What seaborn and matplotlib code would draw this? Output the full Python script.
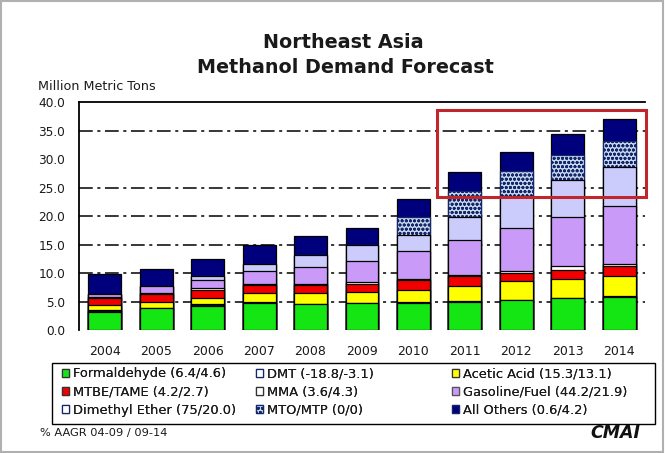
import matplotlib
matplotlib.use("Agg")
import matplotlib.pyplot as plt
import seaborn as sns
import numpy as np
from matplotlib.patches import Patch, Rectangle

# ---------------- data ----------------
years = ["2004", "2005", "2006", "2007", "2008", "2009", "2010", "2011", "2012", "2013", "2014"]
formaldehyde = [3.2, 3.8, 4.3, 4.8, 4.55, 4.7, 4.8, 5.0, 5.25, 5.55, 5.85]
dmt = [0.35, 0.1, 0.35, 0.05, 0.05, 0.05, 0.05, 0.05, 0.05, 0.05, 0.05]
acetic_acid = [0.9, 1.05, 1.05, 1.6, 1.9, 2.0, 2.2, 2.7, 3.3, 3.45, 3.65]
mtbe_tame = [1.15, 1.4, 1.4, 1.4, 1.35, 1.35, 1.75, 1.7, 1.5, 1.5, 1.7]
mma = [0.25, 0.2, 0.2, 0.2, 0.2, 0.4, 0.25, 0.3, 0.35, 0.7, 0.3]
gasoline_fuel = [0.4, 1.15, 1.55, 2.35, 2.95, 3.7, 4.8, 6.15, 7.45, 8.7, 10.3]
dimethyl_ether = [0.15, 0.1, 0.6, 1.2, 2.15, 2.7, 2.9, 4.05, 5.6, 6.4, 6.85]
mto_mtp = [0, 0, 0, 0, 0, 0, 3.2, 4.45, 4.45, 4.4, 4.55]
all_others = [3.5, 2.95, 3.05, 3.3, 3.45, 2.95, 3.1, 3.35, 3.35, 3.75, 3.8]

series_labels = ["Formaldehyde (6.4/4.6)", "DMT (-18.8/-3.1)", "Acetic Acid (15.3/13.1)",
                 "MTBE/TAME (4.2/2.7)", "MMA (3.6/4.3)", "Gasoline/Fuel (44.2/21.9)",
                 "Dimethyl Ether (75/20.0)", "MTO/MTP (0/0)", "All Others (0.6/4.2)"]
y_ticks = [0, 5, 10, 15, 20, 25, 30, 35, 40]
grid_levels = [5, 10, 15, 20, 25, 35]

layers = [formaldehyde, dmt, acetic_acid, mtbe_tame, mma, gasoline_fuel,
          dimethyl_ether, mto_mtp, all_others]
colors = ["#14e614", "#0c0c2a", "#ffff00", "#f20000", "#ffffff", "#c99af7",
          "#ccccfc", "#c9d6ec", "#00007c"]
edges = ["black", "black", "black", "black", "black", "black", "black", "#12286a", "black"]
hatches = [None, None, None, None, None, None, None, "oooo", None]

# ---------------- figure ----------------
W, H = 665, 453
fig = plt.figure(figsize=(W / 100, H / 100), dpi=100)
sns.set_style("white")
plt.rcParams["font.family"] = ["DejaVu Sans"]
plt.rcParams["hatch.linewidth"] = 0.9
TXT = "#1a1a1a"

ax = fig.add_axes([79 / W, 1 - 330 / H, (645 - 79) / W, (330 - 102.5) / H])

cum = np.cumsum(np.array(layers, dtype=float), axis=0)
for i in range(len(layers) - 1, -1, -1):
    sns.barplot(x=years, y=cum[i], color=colors[i], saturation=1, width=0.64,
                edgecolor=edges[i], linewidth=0.9, hatch=hatches[i], ax=ax, zorder=3)

for g in grid_levels:
    ax.axhline(g, color="black", lw=1.1, linestyle=(0, (9, 3, 2, 3)), zorder=1)

ax.set_ylim(0, 40)
ax.set_xlim(-0.5, 10.5)
ax.set_yticks(y_ticks)
ax.set_yticklabels([f"{v:.1f}" for v in y_ticks], fontsize=8.7, color=TXT)
ax.tick_params(axis="y", length=0, pad=10)
ax.tick_params(axis="x", which="major", length=0, pad=11, labelsize=9, labelcolor=TXT)
ax.set_xticks(np.arange(0.5, 10.5, 1), minor=True)
ax.tick_params(axis="x", which="minor", length=4, width=1, direction="out", color="black")
ax.set_xlabel("")
ax.set_ylabel("")
for s in ["right", "bottom"]:
    ax.spines[s].set_visible(False)
for s in ["left", "top"]:
    ax.spines[s].set_visible(True)
    ax.spines[s].set_color("black")
    ax.spines[s].set_linewidth(1.3)

# red highlight box
ax.add_patch(Rectangle((6.45, 23.3), 10.52 - 6.45, 38.6 - 23.3, fill=False,
                       edgecolor="#c0262c", lw=2.2, clip_on=False, zorder=5))

# titles and labels
fig.text(343 / W, 1 - 48 / H, "Northeast Asia", ha="center", va="baseline",
         fontsize=13.8, fontweight="bold", color=TXT)
fig.text(345 / W, 1 - 73 / H, "Methanol Demand Forecast", ha="center", va="baseline",
         fontsize=13.8, fontweight="bold", color=TXT)
fig.text(38 / W, 1 - 90 / H, "Million Metric Tons", ha="left", va="baseline",
         fontsize=9.2, color=TXT)

# legend: three single-column blocks inside one frame
leg_face = ["#14e614", "#ffffff", "#ffff00", "#f20000", "#ffffff", "#c99af7",
            "#ffffff", "#c9d6ec", "#00007c"]
leg_edge = ["#333333", "#12286a", "#333333", "#333333", "#333333", "#555555",
            "#12286a", "#12286a", "#12286a"]
handles = [Patch(facecolor=leg_face[i], edgecolor=leg_edge[i], hatch=hatches[i],
                 linewidth=0.9, label=lab) for i, lab in enumerate(series_labels)]
col_x = [62, 256, 452]
for c in range(3):
    idx = [c, c + 3, c + 6]
    lg = fig.legend([handles[k] for k in idx], [series_labels[k] for k in idx],
                    ncol=1, loc="upper left",
                    bbox_to_anchor=(col_x[c] / W, 1 - 367.5 / H),
                    frameon=False, fontsize=9.4, labelcolor=TXT,
                    handlelength=0.55, handleheight=0.55, handletextpad=0.3,
                    labelspacing=0.4, borderpad=0, borderaxespad=0)
    fig.add_artist(lg)
fig.add_artist(Rectangle((52 / W, 1 - 424 / H), (655 - 52) / W, (424 - 363) / H,
                         transform=fig.transFigure, fill=False, edgecolor="black", lw=1.0))

fig.text(40 / W, 1 - 436 / H, "% AAGR 04-09 / 09-14", ha="left", va="baseline",
         fontsize=8.2, color=TXT)
fig.text(640 / W, 1 - 438 / H, "CMAI", ha="right", va="baseline", fontsize=12.5,
         fontweight="bold", fontstyle="italic", color="#111111")

# outer light frame
fig.add_artist(Rectangle((0.002, 0.003), 0.995, 0.994, transform=fig.transFigure,
                         fill=False, edgecolor="#b0b0b0", lw=1.5))

fig.savefig("out.png", dpi=100)
